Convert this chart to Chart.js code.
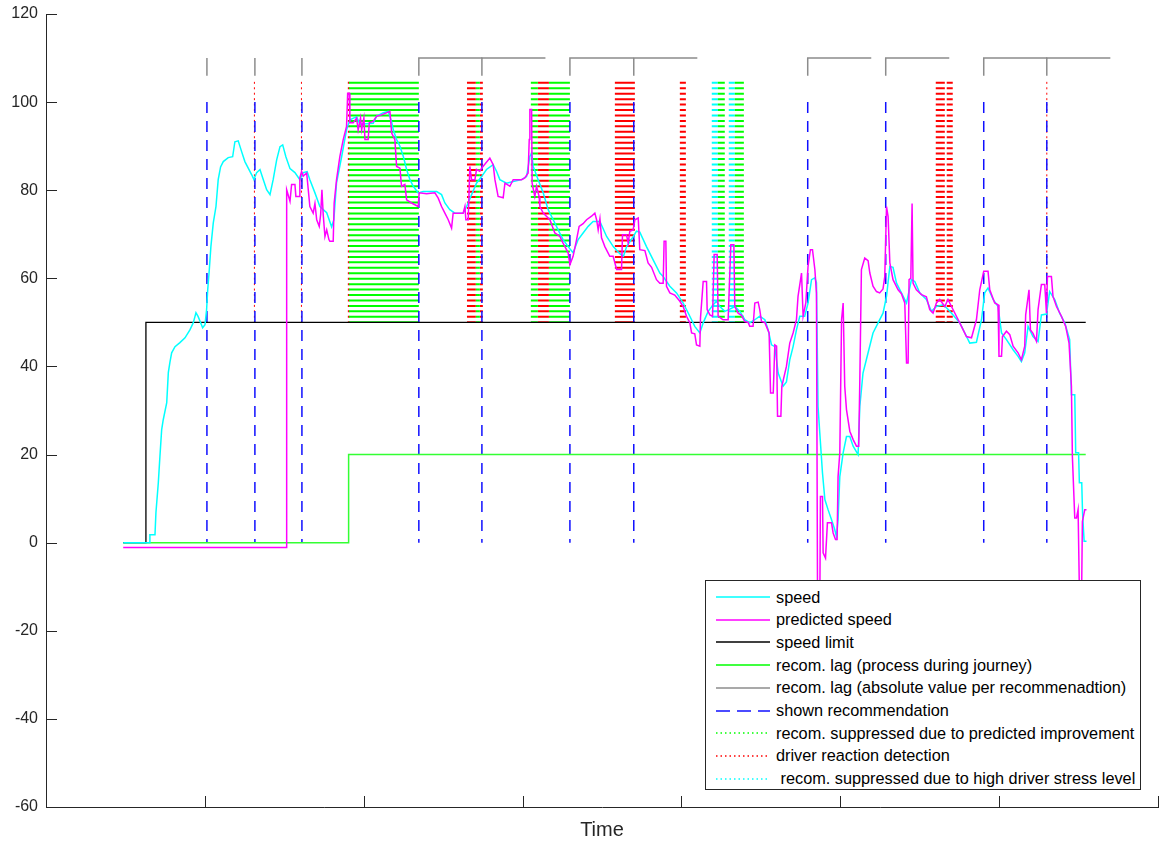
<!DOCTYPE html>
<html>
<head>
<meta charset="utf-8">
<script src="https://cdn.jsdelivr.net/npm/chart.js@4.4.1/dist/chart.umd.min.js"></script>
<style>
    html, body { margin: 0; padding: 0; background: #fff; }
    #wrap { position: relative; width: 1162px; height: 842px; }
    canvas { display: block; }
    #legend {
        position: absolute; left: 705px; top: 580px; width: 434px; height: 208px;
        border: 1px solid #262626; background: #fff;
        font: 16.3px "Liberation Sans", Arial, sans-serif; color: #000;
    }
    .row { position: absolute; left: 0; height: 20px; display: flex; align-items: center; white-space: pre; }
    .row svg { margin-left: 10px; margin-right: 6px; }
</style>
</head>
<body>
<div id="wrap">
    <canvas id="speedChart" width="1162" height="842"></canvas>
    <div id="legend"></div>
</div>
<script>
// time axis in seconds, speed in km/h
const speedTime = [48.6, 65.4, 65.4, 68.6, 69.2, 70.7, 71.7, 72.8, 73.8, 76.0, 77.0, 78.0, 79.1, 81.2, 84.3, 87.5, 90.6, 92.7, 94.4, 95.8, 98.6, 100.1, 101.1, 101.8, 102.8, 103.8, 105.3, 107.0, 108.4, 109.9, 111.6, 114.7, 117.5, 118.9, 121.0, 123.2, 125.2, 129.5, 130.9, 132.6, 134.7, 136.8, 138.9, 141.0, 143.0, 145.2, 147.3, 149.0, 151.0, 153.6, 156.7, 159.8, 161.9, 164.4, 166.1, 169.3, 172.4, 176.7, 179.8, 181.2, 182.9, 186.1, 189.2, 191.3, 195.5,
    197.6, 206.0, 208.1, 212.3, 215.4, 217.6, 218.6, 220.7, 222.8, 224.9, 227.0, 229.1, 231.2, 234.3, 237.4, 245.9, 249.0, 251.1, 254.2, 257.4, 262.6, 264.8, 267.9, 271.0, 274.2, 277.3, 281.5, 283.6, 285.7, 289.9, 294.1, 299.4, 302.5, 304.6, 305.7, 306.7, 309.8, 313.0, 316.1, 319.3, 322.4, 325.5, 328.7, 331.8, 335.0, 338.1,
    341.3, 344.4, 348.7, 352.9, 357.1, 361.2, 363.5, 365.5, 369.7, 371.7, 373.8, 378.0, 382.2, 386.4,
    388.5, 392.7, 396.9, 401.1, 405.3, 408.4, 411.6, 413.7, 416.8, 420.0, 422.1, 424.2, 427.3, 430.5, 433.6, 436.8, 439.9, 443.0, 446.2, 449.3, 452.5, 454.6, 456.7, 458.8, 460.9,
    464.0, 466.1, 468.2, 470.3, 472.4, 474.5, 477.6, 479.7, 481.9, 484.0, 485.0, 486.0, 487.1, 488.8, 490.3, 492.3, 494.5, 496.5, 497.6, 498.6, 499.7, 501.8, 503.9, 506.0, 508.1, 511.2, 512.3, 514.3, 517.5, 520.6, 523.8, 526.9, 529.1, 531.2, 533.2, 535.4, 538.5, 541.7, 544.8, 546.9, 550.0, 554.2, 557.4, 560.5, 564.7, 567.8, 571.0, 575.2, 578.4, 581.5, 585.7, 588.9, 590.9, 593.0, 596.2, 599.3, 601.5, 604.6, 608.8, 611.9, 614.0, 616.1, 618.2, 621.3, 624.5, 626.6, 629.8, 631.8, 635.0, 638.1, 641.3, 644.4, 645.5, 647.6, 648.2, 650.0, 650.5, 652.0, 652.5, 653.5, 655.0];
const speedValues = [0, 0, 1.8, 1.8, 6.8, 13.6, 19.5, 25.6, 27.9, 31.8, 38.6, 40.9, 43.1, 44.5, 45.4, 46.5, 48.3, 49.9, 52.2, 51.3, 48.8, 49.5, 52.9, 57.4, 62.0, 67.2, 72.6, 76.3, 82.4, 85.3, 86.5, 87.4, 87.6, 91.0, 91.2, 88.7, 86.5, 83.5, 82.4, 84.0, 84.7, 82.4, 80.1, 79.0, 82.4, 86.9, 89.9, 90.3, 87.6, 84.9, 84.0, 82.4, 84.0, 84.2, 82.4, 79.4, 76.3, 74.9, 71.7, 73.3, 81.7, 87.6, 93.7, 96.0, 96.7,
    95.0, 95.2, 96.8, 97.6, 97.9, 95.5, 93.7, 91.5, 90.0, 87.7, 84.7, 82.4, 80.9, 79.4, 79.7, 79.7, 79.0, 77.1, 75.6, 74.8, 74.8, 76.3, 79.0, 81.6, 83.1, 84.7, 85.8, 84.3, 82.4, 81.6, 82.0, 82.4, 83.1, 87.7, 88.4, 85.4, 82.4, 79.4, 75.6, 73.3, 71.0, 68.8, 67.2, 65.8, 68.8, 70.3,
    71.8, 72.9, 72.9, 69.5, 67.2, 65.6, 65.0, 67.2, 69.5, 70.7, 70.5, 67.2, 64.2, 61.2,
    60.4, 58.2, 56.7, 54.4, 51.4, 49.1, 47.6, 49.9, 52.5, 54.0, 54.8, 53.6, 52.5, 53.0, 53.6, 52.5, 50.6, 49.9, 50.6, 51.4, 50.6, 48.3, 44.9, 44.5, 38.5,
    35.5, 36.5, 41.5, 44.5, 48.3, 51.4, 51.4, 54.4, 59.7, 60.1, 59.0, 30.9, 24.9, 15.8, 9.8, 7.5, 5.2, 3.0, 1.4, 5.2, 15.0, 20.4, 24.1, 24.1, 21.9, 20.0, 30.9, 38.5, 43.1, 47.6, 49.9, 52.1, 55.9, 62.7, 62.5, 58.9, 56.7, 54.4, 59.7, 59.3, 56.7, 55.2, 52.5, 53.6, 54.0, 53.0, 51.7, 49.9, 47.6, 45.3, 45.5, 50.6, 56.7, 57.8, 55.2, 53.6, 47.6, 46.1, 43.8, 42.3, 41.1, 43.1, 49.1, 46.8, 45.7, 51.7, 51.9, 57.0, 55.2, 52.1, 49.9, 46.1, 33.6, 33.6, 20.4, 20.4, 13.6, 13.6, 6.8, 0.3, 0.3];

const predTime = [48.6, 151.5, 151.5, 153.6, 154.6, 156.7, 157.3, 159.4, 159.8, 160.9, 161.9, 164.1, 165.1, 166.1, 168.2, 169.3, 170.4, 172.0, 172.9, 173.7, 174.5, 175.6, 176.7, 178.1, 178.7, 180.8, 181.4, 182.9, 185.0, 187.1, 189.2, 189.9, 190.9, 191.3,
    193.4, 195.5, 196.5, 198.0, 198.7, 200.1, 200.8, 202.8, 203.5, 206.0, 208.1, 211.3, 216.5, 217.6, 219.6, 220.7, 222.8, 223.8, 225.9, 227.0, 230.1, 234.3, 234.9, 239.6, 244.8, 246.9, 249.0, 251.1, 253.2, 255.3, 256.3, 262.6, 263.7, 264.3, 265.8, 266.8, 267.9, 270.0, 271.0, 273.1, 274.2, 279.4, 281.5, 282.6, 284.6, 287.8, 288.9, 292.0, 294.1, 299.4, 301.4, 303.5, 304.2, 304.6, 305.7, 306.0, 307.7, 308.8, 310.4, 310.9, 313.0, 317.2, 320.3, 323.5, 325.5, 328.7, 329.8, 331.8, 334.0, 335.6, 338.1, 340.3, 343.4, 345.5,
    346.6, 347.6, 348.7, 349.7, 351.8, 354.9, 357.0, 359.2, 362.3, 362.9, 365.4, 366.5, 367.5, 369.6, 370.7, 372.8, 373.8, 377.0, 379.0, 381.2, 384.3, 386.4,
    388.5, 389.1, 390.2, 390.6, 392.7, 395.8, 399.0, 401.1, 403.2, 405.3, 406.4, 408.4, 409.5, 411.6, 412.0, 413.7, 415.8, 416.2, 417.9, 419.6, 420.6, 422.5, 423.1, 426.2, 429.4, 431.1, 433.0, 433.6, 435.7, 437.8, 439.9, 442.0, 443.0, 445.1, 446.2, 448.3, 449.3, 450.4, 452.5, 453.5, 455.2, 456.1, 457.8, 458.8, 459.9, 460.5, 462.6,
    463.2, 466.1, 468.2, 470.3, 472.4, 473.4, 475.6, 476.6, 478.3, 479.7, 481.2, 482.5, 484.0, 485.0, 485.7, 487.1, 487.5, 488.8, 489.2, 490.7, 491.9, 494.5, 495.5, 497.0, 498.0, 498.6, 499.7, 500.8, 501.8, 502.8, 503.9, 506.0, 508.1, 510.2, 511.6, 512.3, 513.3, 515.4, 517.5, 518.6, 520.6, 522.8, 524.8, 526.9, 528.0, 529.1, 530.1, 531.2, 533.2, 536.4, 538.5, 540.6, 541.7, 542.7, 543.3, 544.4, 545.2, 545.8, 547.9, 551.1, 554.2, 556.3, 558.4, 560.5, 562.6, 565.8, 567.8, 570.0, 573.1, 576.3, 579.4, 582.6, 585.7, 587.8, 590.3, 593.0, 594.1, 597.2, 599.3, 599.9, 601.5, 602.1, 604.6, 606.7, 608.8, 611.9, 614.0, 616.1, 616.7, 618.8, 619.7, 621.3, 623.5, 624.5, 626.6, 628.7, 629.8, 630.4, 632.9, 633.9, 636.1, 639.2, 641.9, 644.0, 645.5, 646.1, 647.6, 648.7, 649.7, 650.7, 651.8, 652.4, 653.9, 655.0];
const predValues = [-1.1, -1.1, 80.1, 77.5, 81.3, 81.3, 78.6, 78.6, 82.8, 84.3, 83.2, 83.9, 80.1, 76.3, 74.8, 77.0, 73.3, 71.8, 74.5, 80.1, 74.5, 69.5, 71.0, 68.8, 68.4, 68.4, 77.1, 82.4, 87.7, 91.5, 94.5, 102.0, 102.0, 95.3,
    95.3, 96.4, 93.7, 96.4, 93.7, 96.4, 91.5, 91.5, 95.3, 95.6, 96.8, 97.1, 97.9, 93.0, 91.5, 85.4, 85.0, 80.9, 81.3, 77.8, 77.1, 76.3, 79.4, 79.2, 79.4, 78.2, 76.3, 74.8, 73.3, 71.4, 74.8, 74.8, 76.3, 73.3, 73.3, 85.4, 82.4, 82.4, 84.7, 84.3, 85.0, 87.3, 85.8, 82.4, 78.6, 78.3, 81.6, 80.9, 82.4, 82.4, 82.8, 83.9, 91.5, 98.3, 98.3, 81.6, 78.6, 80.9, 78.6, 76.3, 74.8, 73.3, 70.3, 69.5, 68.0, 65.8, 63.1, 65.0, 68.8, 71.8, 72.4, 73.3, 74.1, 74.8,
    73.3, 71.0, 73.5, 69.2, 67.2, 65.0, 65.0, 62.0, 62.0, 69.9, 69.9, 68.0, 70.7, 71.0, 73.3, 73.7, 66.5, 66.3, 63.5, 62.5, 59.7, 58.9,
    58.9, 68.4, 68.4, 58.2, 56.7, 56.2, 54.8, 53.6, 51.4, 49.9, 47.6, 47.4, 44.9, 44.6, 51.0, 59.3, 59.3, 52.9, 51.7, 51.4, 65.4, 65.4, 51.4, 50.6, 50.6, 67.6, 67.6, 53.6, 52.1, 51.6, 50.2, 50.0, 49.1, 49.1, 54.4, 54.6, 52.9, 50.2, 50.0, 49.1, 47.6, 34.0, 34.0, 44.9, 44.6, 28.7, 28.7,
    35.5, 40.0, 45.3, 47.6, 50.6, 55.9, 61.2, 51.4, 54.4, 62.7, 66.5, 66.5, 62.0, 56.7, -15, -15, 10.5, 10.5, -2.3, -3.5, 4.5, 4.5, 2.2, 0.7, 0.7, 15.0, 20.4, 50.6, 54.4, 35.5, 30.2, 25.3, 23.4, 21.9, 21.9, 37.0, 62.0, 64.6, 64.0, 61.2, 58.2, 57.0, 56.7, 57.6, 60.4, 76.3, 74.0, 63.5, 59.7, 57.4, 56.5, 54.4, 40.8, 40.8, 59.7, 60.0, 77.0, 58.9, 57.4, 56.3, 55.8, 52.9, 52.1, 54.4, 55.2, 53.6, 55.2, 53.6, 51.4, 49.1, 46.8, 46.5, 50.6, 57.4, 61.6, 61.6, 57.4, 54.4, 54.0, 42.3, 42.3, 46.8, 48.0, 47.2, 44.6, 43.1, 41.5, 44.6, 51.7, 57.4, 48.3, 47.5, 45.7, 52.9, 58.6, 58.6, 52.1, 60.4, 60.4, 55.9, 53.6, 51.4, 49.1, 45.3, 35.5, 19.6, 5.6, 5.6, 7.5, -15, -15, 4.8, 7.5, 7.5];

const limitTime = [48.6, 62.9, 62.9, 654.5];
const limitValues = [0, 0, 50, 50];

const lagProcessTime = [48.6, 190.5, 190.5, 654.5];
const lagProcessValues = [0, 0, 20, 20];

// shown recommendations and the lag measured for each of them
const recTimes = [101.3, 131.5, 161.1, 234.7, 274.4, 329.8, 370.0, 479.5, 528.6, 590.3, 630.0];
const recLags = [0, 0, 0, 40, 40, 40, 40, 40, 40, 40, 40];

// [start, end] time spans of the event markers
const suppressedImprovement = [[190.7, 234.7], [270.6, 273.1], [305.2, 309.6], [316.6, 329.8], [422.9, 427.3], [433.6, 439.3]];
const reactionDetection = [[190.0, 191.0], [131.2, 131.2], [160.8, 160.8], [265.0, 270.6], [273.1, 275.0], [309.6, 316.6], [358.1, 370.7], [399.0, 402.8], [560.1, 565.8], [567.0, 570.8], [630.0, 630.0]];
const suppressedStress = [[419.1, 422.9], [429.8, 433.6]];

const yTicks = [-60, -40, -20, 0, 20, 40, 60, 80, 100, 120];

const markerTop = 104.6;
const markerBottom = 50;

const xy = (ts, vs) => ts.map((t, i) => ({ x: t, y: vs[i] }));

const plainLine = (label, data, color, width, order) => ({
    label, data, borderColor: color, borderWidth: width,
    pointRadius: 0, tension: 0, fill: false, order
});

const markerBand = (range, color, label) => {
    const mid = (range[0] + range[1]) / 2;
    return {
        label,
        data: [{ x: mid, y: markerTop }, { x: mid, y: markerBottom }],
        borderColor: color,
        borderDash: [2, 3.44],
        borderCapStyle: 'butt',
        borderWidth: ctx => {
            const sx = ctx.chart.scales.x;
            return Math.max(1, sx.getPixelForValue(range[1]) - sx.getPixelForValue(range[0]));
        },
        pointRadius: 0,
        order: 5
    };
};

const datasets = [
    plainLine('speed', xy(speedTime, speedValues), '#00ffff', 1.5, 1),
    plainLine('predicted speed', xy(predTime, predValues), '#ff00ff', 1.5, 0),
    plainLine('speed limit', xy(limitTime, limitValues), '#000000', 1.3, 2),
    plainLine('recom. lag (process during journey)', xy(lagProcessTime, lagProcessValues), '#33ff33', 1.5, 3)
];

recTimes.forEach((t, i) => {
    datasets.push(plainLine('recom. lag (absolute value per recommenadtion)',
        [{ x: t, y: 106 }, { x: t, y: 110 }, { x: t + recLags[i], y: 110 }], '#8c8c8c', 1.5, 4));
    datasets.push(Object.assign(plainLine('shown recommendation',
        [{ x: t, y: 100 }, { x: t, y: 0 }], '#1010ff', 1.5, 3), { borderDash: [11, 8] }));
});
suppressedImprovement.forEach(r => datasets.push(markerBand(r, '#00ff00', 'recom. suppressed due to predicted improvement')));
reactionDetection.forEach(r => datasets.push(markerBand(r, '#ff0000', 'driver reaction detection')));
suppressedStress.forEach(r => datasets.push(markerBand(r, '#00ffff', 'recom. suppressed due to high driver stress level')));

const inwardTicks = {
    id: 'inwardTicks',
    afterDraw(chart) {
        const { ctx, chartArea: a, scales: { x, y } } = chart;
        ctx.save();
        ctx.strokeStyle = '#262626';
        ctx.lineWidth = 1;
        ctx.beginPath();
        y.ticks.forEach(t => {
            const py = Math.round(y.getPixelForValue(t.value)) + 0.5;
            ctx.moveTo(a.left, py); ctx.lineTo(a.left + 11, py);
        });
        x.ticks.forEach(t => {
            const px = Math.round(x.getPixelForValue(t.value)) + 0.5;
            ctx.moveTo(px, a.bottom); ctx.lineTo(px, a.bottom - 11);
        });
        ctx.stroke();
        ctx.restore();
    }
};

new Chart(document.getElementById('speedChart'), {
    type: 'line',
    data: { datasets },
    plugins: [inwardTicks],
    options: {
        responsive: false,
        animation: false,
        layout: { padding: { top: 14, right: 4, left: 0, bottom: 0 } },
        plugins: { legend: { display: false }, tooltip: { enabled: false } },
        scales: {
            x: {
                type: 'linear', min: 0, max: 700,
                ticks: { display: false, stepSize: 100 },
                grid: { display: false, drawTicks: false, tickLength: 0 },
                border: { color: '#262626', width: 1 },
                title: { display: true, text: 'Time', color: '#262626', font: { family: 'Liberation Sans', size: 20 }, padding: { top: 0, bottom: 0 } },
                afterFit: s => { s.height = 35; }
            },
            y: {
                min: -60, max: 120,
                afterBuildTicks: s => { s.ticks = yTicks.map(v => ({ value: v })); },
                ticks: { color: '#262626', padding: 8, font: { family: 'Liberation Sans', size: 16 } },
                grid: { display: false, drawTicks: false, tickLength: 0 },
                border: { color: '#262626', width: 1 },
                afterFit: s => { s.width = 46; s.paddingTop = 0; s.paddingBottom = 0; }
            }
        }
    }
});

// legend box drawn as html over the plot
const legendItems = [
    ['speed', '#00ffff', ''],
    ['predicted speed', '#ff00ff', ''],
    ['speed limit', '#000000', ''],
    ['recom. lag (process during journey)', '#00ff00', ''],
    ['recom. lag (absolute value per recommenadtion)', '#8c8c8c', ''],
    ['shown recommendation', '#1010ff', '14 7'],
    ['recom. suppressed due to predicted improvement', '#00ff00', '1.5 3'],
    ['driver reaction detection', '#ff0000', '1.5 3'],
    [' recom. suppressed due to high driver stress level', '#00ffff', '1.5 3']
];
const legendEl = document.getElementById('legend');
legendItems.forEach(([text, color, dash], i) => {
    const row = document.createElement('div');
    row.className = 'row';
    row.style.top = (6 + i * 22.7) + 'px';
    row.innerHTML = `<svg width="54" height="6"><line x1="0" y1="3" x2="54" y2="3" stroke="${color}" stroke-width="1.5" ${dash ? `stroke-dasharray="${dash}"` : ''}/></svg><span>${text}</span>`;
    legendEl.appendChild(row);
});
</script>
</body>
</html>
